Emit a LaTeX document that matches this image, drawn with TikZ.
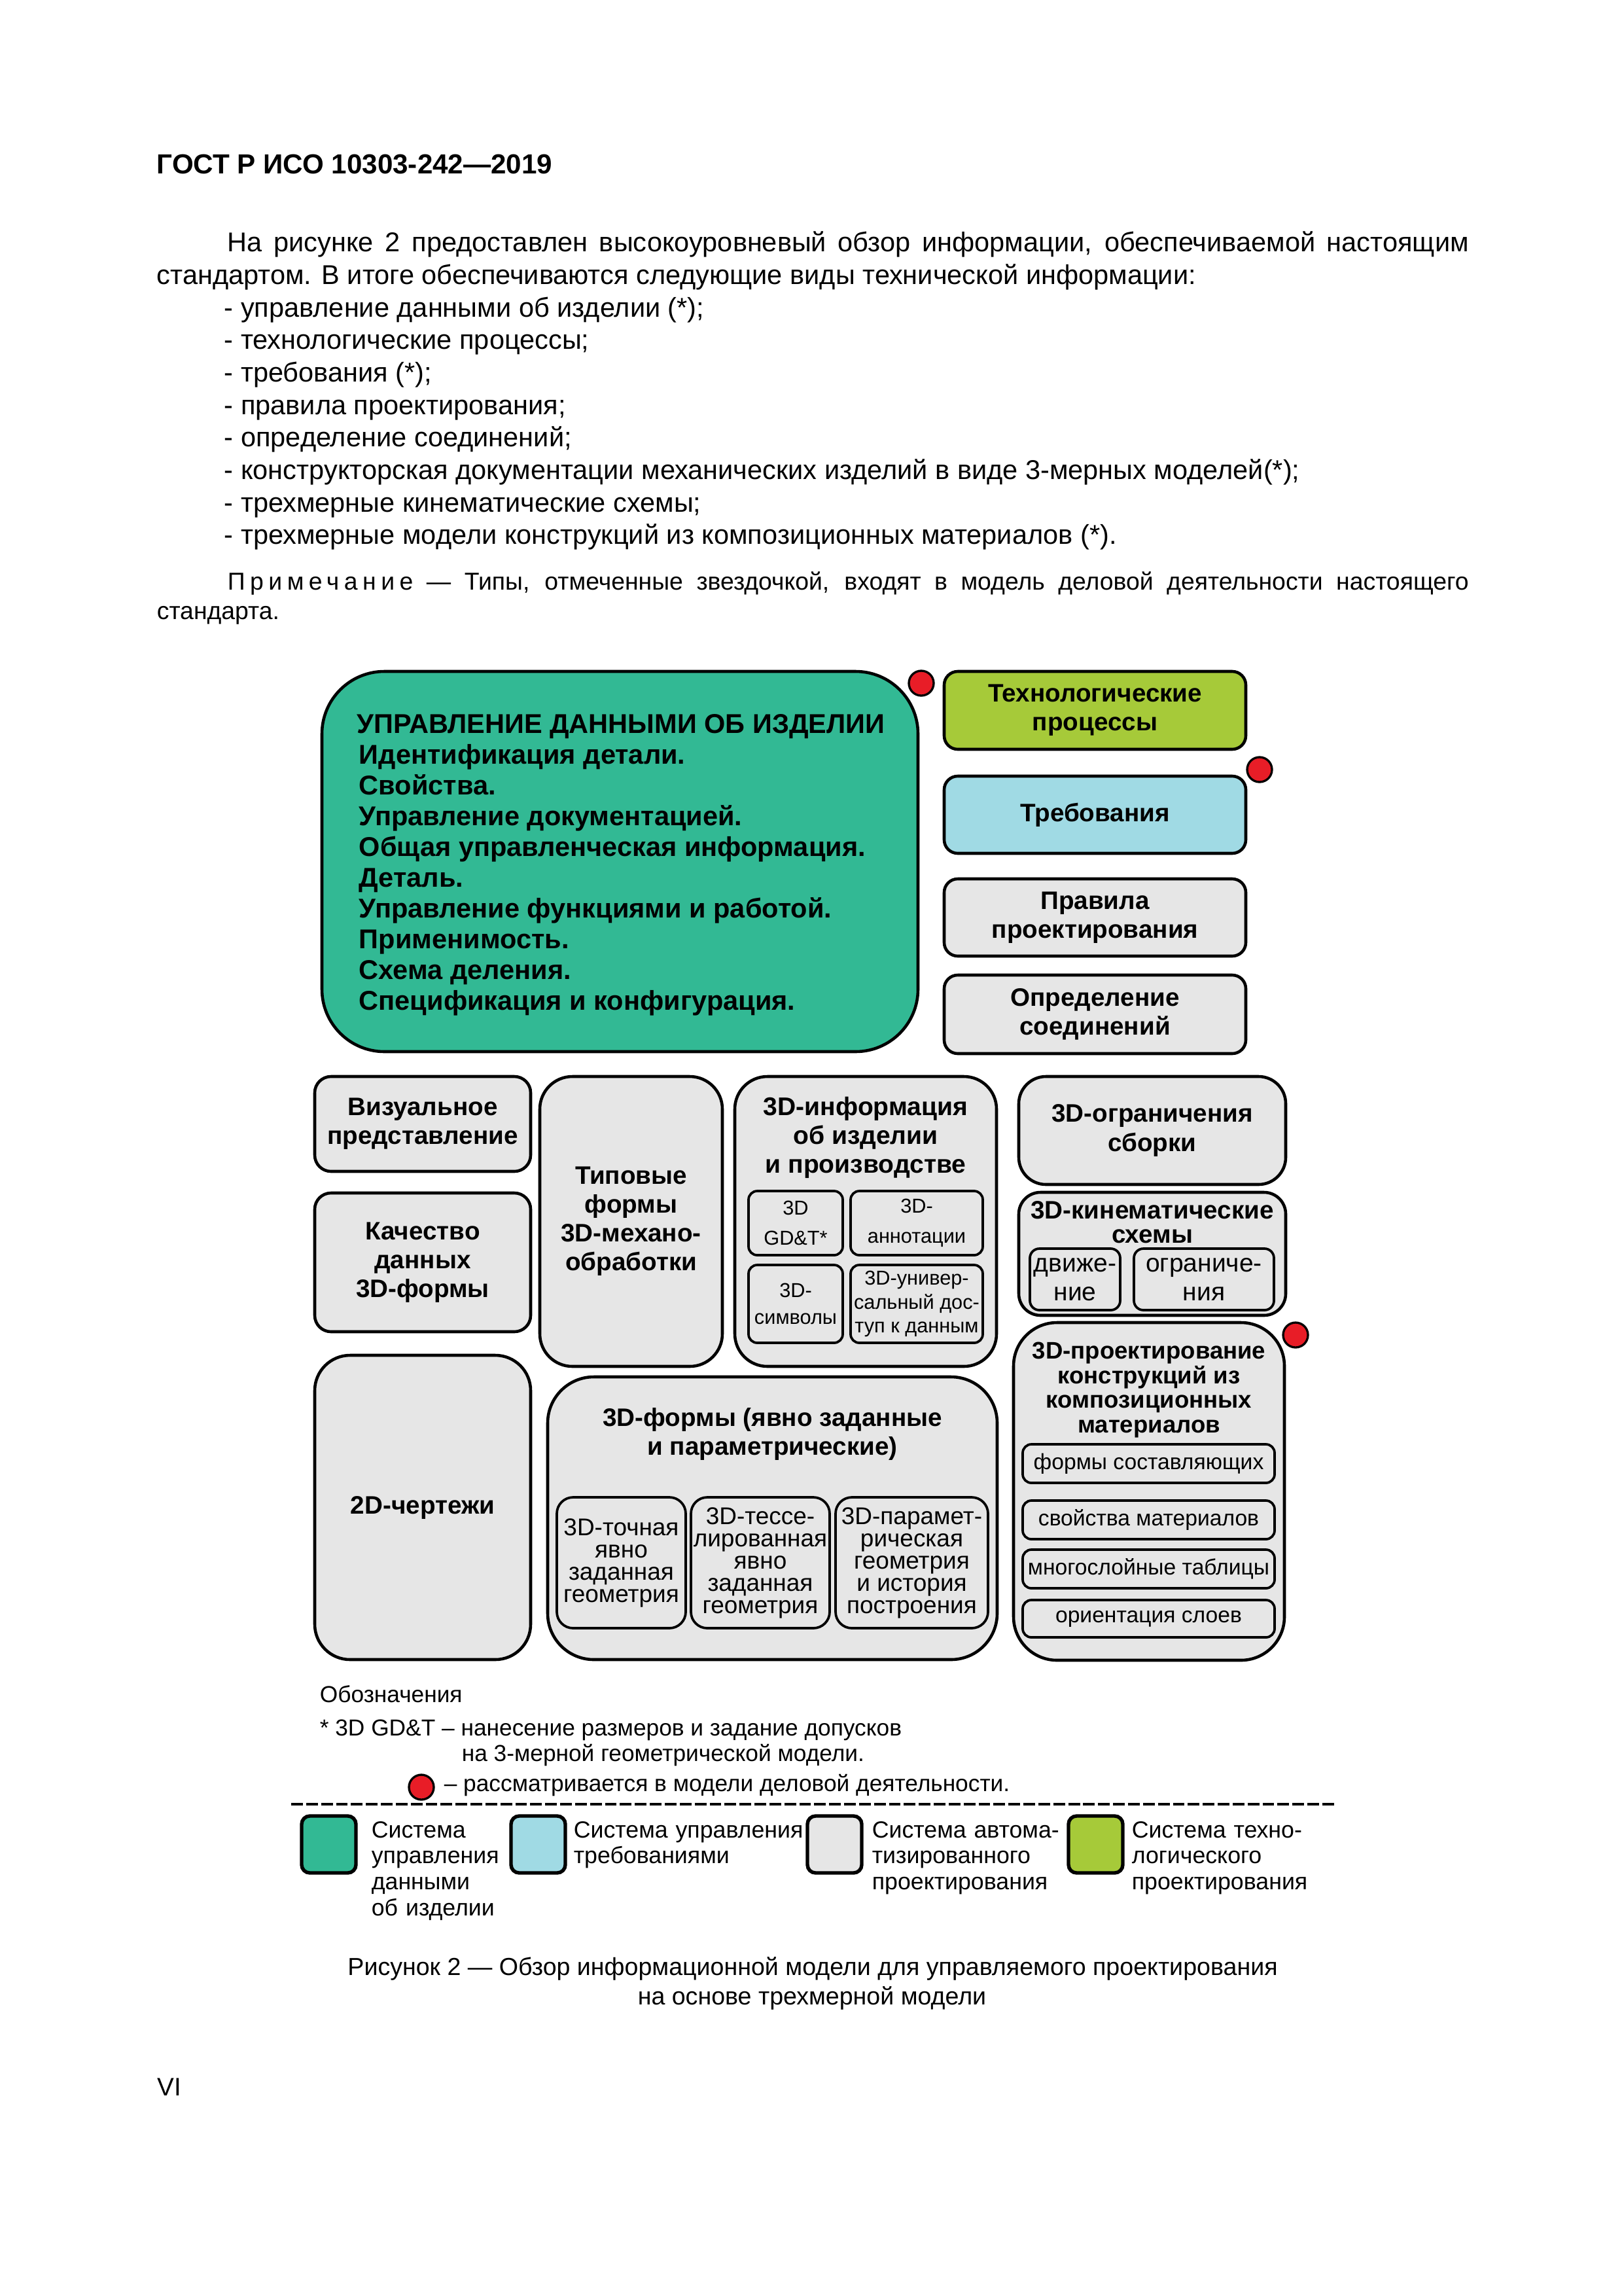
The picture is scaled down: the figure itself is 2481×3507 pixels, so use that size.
\documentclass[tikz,border=0pt]{standalone}
\usepackage{fontspec}
\setmainfont{Liberation Sans}
\usepackage{tikz}
\definecolor{PdmGreen}{RGB}{50,185,148}
\definecolor{TechLime}{RGB}{166,202,57}
\definecolor{ReqBlue}{RGB}{160,218,228}
\definecolor{CadGrey}{RGB}{230,230,230}
\definecolor{MarkRed}{RGB}{232,29,39}
\newlength\pxu
\setlength\pxu{0.0846433mm}
\newcommand\fsz[2]{\fontsize{#1}{#2}\selectfont\lineskiplimit=-20pt\lineskip=0pt\relax}
\tikzset{
  sz/.style 2 args={minimum width=#1*\pxu, minimum height=#2*\pxu},
  pnl/.style={draw, line width=1.1pt, fill=CadGrey, inner sep=0pt, align=center,
              rounded corners=10pt, font=\bfseries\fsz{9.3}{10.6}},
  chip/.style={pnl, line width=0.9pt, rounded corners=3.2pt, font=\fsz{7.4}{8.8}},
  bizdot/.style={circle, draw, line width=0.8pt, fill=MarkRed, minimum size=38*\pxu, inner sep=0pt},
  txt/.style={inner sep=0pt, anchor=base west, font=\fsz{10}{12}},
}

\begin{document}
\begin{tikzpicture}[x=\pxu, y=-\pxu]
  \useasboundingbox (0,0) rectangle (2481,3507);
  \fill[white] (0,0) rectangle (2481,3507);

  % page head and intro text
  \node[txt, font=\bfseries\fsz{10.15}{12}] (head) at (239,265) {ГОСТ Р ИСО 10303-242—2019};
  \node[txt] (intro1) at (347,384)
    {\makebox[1897\pxu][s]{На рисунке 2 предоставлен высокоуровневый обзор информации, обеспечиваемой настоящим}};
  \node[txt] (intro2) at (239,434) {стандартом. В итоге обеспечиваются следующие виды технической информации:};
  \foreach \bul [count=\k] in {{управление данными об изделии (*);}, {технологические процессы;},
      {требования (*);}, {правила проектирования;}, {определение соединений;},
      {конструкторская документации механических изделий в виде 3-мерных моделей(*);},
      {трехмерные кинематические схемы;},
      {трехмерные модели конструкций из композиционных материалов (*).}}
    \node[txt] (item\k) at (342,{484+49.7*(\k-1)}) {- \bul};
  \node[txt, font=\fsz{9}{10.8}] (note1) at (347,901)
    {\makebox[1897\pxu][s]{{\addfontfeature{LetterSpace=20}Примечание} — Типы, отмеченные звездочкой, входят в модель деловой деятельности настоящего}};
  \node[txt, font=\fsz{9}{10.8}] (note2) at (239,946) {стандарта.};

  % product data management block
  \node[pnl, fill=PdmGreen, rounded corners=23pt, sz={911}{581}] (pdm) at (947.5,1316.5) {};
  \node[txt, font=\bfseries\fsz{10}{12}] (pdmhead) at (545,1120) {УПРАВЛЕНИЕ ДАННЫМИ ОБ ИЗДЕЛИИ};
  \foreach \pdmline [count=\i] in {Идентификация детали., Свойства., Управление документацией.,
      Общая управленческая информация., Деталь., Управление функциями и работой.,
      Применимость., Схема деления., Спецификация и конфигурация.}
    \node[txt, font=\bfseries\fsz{10}{12}] (pdm\i) at (548,{1120+47*\i}) {\pdmline};

  % right column
  \node[pnl, fill=TechLime, rounded corners=5pt, sz={461}{119}] (tech) at (1673.5,1085.5) {Технологические\\процессы};
  \node[pnl, fill=ReqBlue, rounded corners=5pt, sz={461}{118}] (req) at (1673.5,1245) {Требования};
  \node[pnl, rounded corners=5pt, sz={461}{118}] (rules) at (1673.5,1402) {Правила\\проектирования};
  \node[pnl, rounded corners=5pt, sz={461}{120}] (joints) at (1673.5,1550) {Определение\\соединений};

  % left stack
  \node[pnl, rounded corners=6pt, sz={330}{145}] (visual) at (646,1717.5) {Визуальное\\представление};
  \node[pnl, rounded corners=6pt, sz={330}{212}] (quality) at (646,1929) {Качество\\данных\\3D-формы};
  \node[pnl, rounded corners=13pt, sz={330}{465}] (drawings) at (646,2303.5) {2D-чертежи};

  % machining features
  \node[pnl, rounded corners=12pt, sz={279}{443}] (machining) at (964.5,1866.5) {Типовые\\формы\\3D-механо-\\обработки};

  % 3D product and manufacturing information
  \node[pnl, rounded corners=12pt, sz={400}{443}] (pmi) at (1323,1866.5) {};
  \node[inner sep=0pt, align=center, font=\bfseries\fsz{9.4}{10.6}] (pmihead) at (1323,1738)
    {3D-информация\\об изделии\\и производстве};
  \node[chip, font=\fsz{7.4}{11}, sz={144}{98}] (gdt) at (1216,1869) {3D\\GD\&T*};
  \node[chip, font=\fsz{7.4}{11}, sz={202}{98}] (annot) at (1401,1869) {3D-\\аннотации};
  \node[chip, font=\fsz{7.4}{10}, sz={144}{119}] (symb) at (1216,1992.5) {3D-\\символы};
  \node[chip, font=\fsz{7.4}{8.7}, sz={202}{119}] (access) at (1401,1992.5) {3D-универ-\\сальный дос-\\туп к данным};

  % 3D shapes
  \node[pnl, rounded corners=17pt, sz={687}{432}] (shapes) at (1180.5,2320) {};
  \node[inner sep=0pt, align=center, font=\bfseries\fsz{9.3}{10.6}] (shapeshead) at (1180.5,2191)
    {3D-формы (явно заданные\\и параметрические)};
  \node[chip, rounded corners=6pt, font=\fsz{8.9}{8.2}, sz={197}{200}] (exact) at (949.5,2388) {3D-точная\\явно\\заданная\\геометрия};
  \node[chip, rounded corners=6pt, font=\fsz{8.9}{8.2}, sz={212}{200}] (tess) at (1162,2388) {3D-тессе-\\лированная\\явно\\заданная\\геометрия};
  \node[chip, rounded corners=6pt, font=\fsz{8.9}{8.2}, sz={233}{200}] (param) at (1393.5,2388) {3D-парамет-\\рическая\\геометрия\\и история\\построения};

  % assembly and kinematics
  \node[pnl, rounded corners=10pt, sz={408}{165}] (asm) at (1761,1727.5) {3D-ограничения\\сборки};
  \node[pnl, rounded corners=8pt, sz={408}{188}] (kin) at (1761,1916) {};
  \node[inner sep=0pt, align=center, font=\bfseries\fsz{9.3}{8.9}] (kinhead) at (1761,1868) {3D-кинематические\\схемы};
  \node[chip, rounded corners=3.5pt, font=\fsz{9.4}{10.6}, sz={138}{94}] (motion) at (1643,1955) {движе-\\ние};
  \node[chip, rounded corners=3.5pt, font=\fsz{9.4}{10.6}, sz={214}{94}] (limits) at (1840,1955) {ограниче-\\ния};

  % composite structures
  \node[pnl, rounded corners=16pt, sz={414}{516}] (comp) at (1756,2279) {};
  \node[inner sep=0pt, align=center, font=\bfseries\fsz{8.8}{9}] (comphead) at (1756,2124)
    {3D-проектирование\\конструкций из\\композиционных\\материалов};
  \node[chip, font=\fsz{8.1}{10}, sz={385}{59}] (plies) at (1755.5,2236.5) {формы составляющих};
  \node[chip, font=\fsz{8.1}{10}, sz={385}{59}] (matprop) at (1755.5,2322.5) {свойства материалов};
  \node[chip, font=\fsz{8.1}{10}, sz={385}{59}] (layup) at (1755.5,2397.5) {многослойные таблицы};
  \node[chip, font=\fsz{8.1}{10}, sz={385}{57}] (orient) at (1755.5,2473.5) {ориентация слоев};

  % business model marks
  \node[bizdot] (mark1) at (1408,1044) {};
  \node[bizdot] (mark2) at (1925,1176) {};
  \node[bizdot] (mark3) at (1980,2040) {};

  % notation
  \node[txt, font=\fsz{8.5}{10}] (notehead) at (488,2601) {Обозначения};
  \node[txt, font=\fsz{8.5}{10}] (gdtnote1) at (488,2652) {* 3D GD\&T – нанесение размеров и задание допусков};
  \node[txt, font=\fsz{8.5}{10}] (gdtnote2) at (705,2691) {на 3-мерной геометрической модели.};
  \node[bizdot] (lgdot) at (644,2731) {};
  \node[txt, font=\fsz{8.5}{10}] (dotnote) at (678,2737) {– рассматривается в модели деловой деятельности.};
  \coordinate (dashL) at (445,2757);
  \coordinate (dashR) at (2039,2757);
  \draw[line width=1pt, dash pattern=on 4.3pt off 1.2pt] (dashL) -- (dashR);

  % colour legend
  \node[pnl, fill=PdmGreen, rounded corners=3pt, line width=1.3pt, sz={83}{87}] (sw1) at (502.5,2818.5) {};
  \node[pnl, fill=ReqBlue, rounded corners=3pt, line width=1.3pt, sz={83}{87}] (sw2) at (822.5,2818.5) {};
  \node[pnl, fill=CadGrey, rounded corners=3pt, line width=1.3pt, sz={83}{87}] (sw3) at (1275.5,2818.5) {};
  \node[pnl, fill=TechLime, rounded corners=3pt, line width=1.3pt, sz={83}{87}] (sw4) at (1674.5,2818.5) {};
  \node[txt, font=\fsz{8.6}{9.6}, text width=250*\pxu, align=left] (lg1) at (567,2808) {Система\\управления\\данными\\об изделии};
  \node[txt, font=\fsz{8.6}{9.6}, text width=360*\pxu, align=left] (lg2) at (876,2808) {Система управления\\требованиями};
  \node[txt, font=\fsz{8.6}{9.6}, text width=300*\pxu, align=left] (lg3) at (1332,2808) {Система автома-\\тизированного\\проектирования};
  \node[txt, font=\fsz{8.6}{9.6}, text width=300*\pxu, align=left] (lg4) at (1729,2808) {Система техно-\\логического\\проектирования};

  % caption and folio
  \node[inner sep=0pt, anchor=base, font=\fsz{9.05}{11}] (cap1) at (1242,3018)
    {Рисунок 2 — Обзор информационной модели для управляемого проектирования};
  \node[inner sep=0pt, anchor=base, font=\fsz{9.05}{11}] (cap2) at (1241,3063) {на основе трехмерной модели};
  \node[txt, font=\fsz{9.3}{11}] (folio) at (240,3202) {VI};
\end{tikzpicture}
\end{document}
